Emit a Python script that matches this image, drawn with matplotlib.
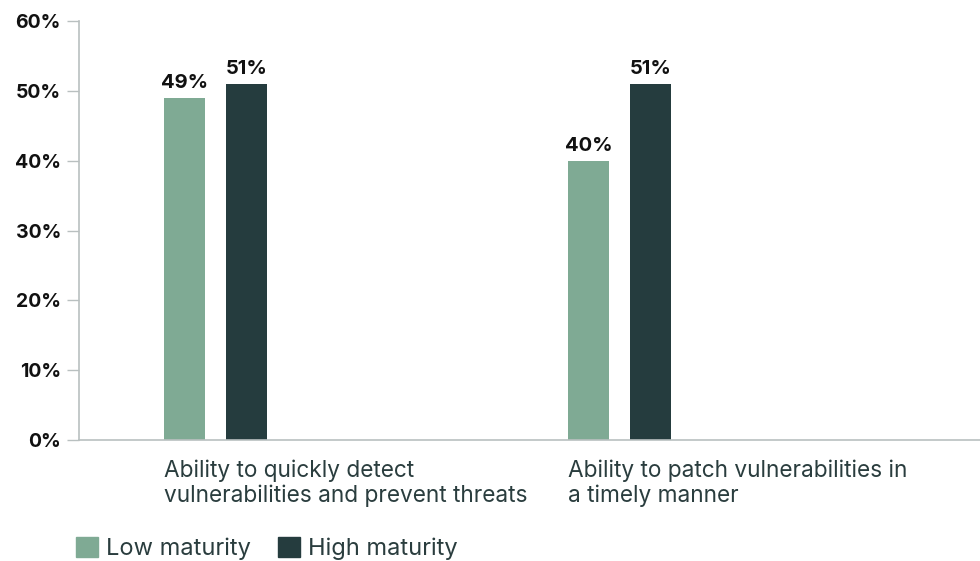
import matplotlib
matplotlib.use("Agg")
import matplotlib.pyplot as plt
import numpy as np
from matplotlib.patches import Patch

plt.rcParams['font.family'] = ['Inter', 'DejaVu Sans']

categories = ["Ability to quickly detect\nvulnerabilities and prevent threats",
              "Ability to patch vulnerabilities in\na timely manner"]
series_names = ["Low maturity", "High maturity"]
low_values = [49, 40]
high_values = [51, 51]
yticks = [0, 10, 20, 30, 40, 50, 60]

low_color = "#7faa94"
high_color = "#253c3e"
axis_color = "#b9c0c0"
text_color = "#2a3d3e"

fig = plt.figure(figsize=(9.8, 5.61), dpi=100)
ax = fig.add_axes([79 / 980, 1 - 440 / 561, 1 - 79 / 980, (440 - 21) / 561])

x = np.arange(len(categories))
w = 0.1015
gap = 0.1535
b1 = ax.bar(x, low_values, width=w, align='edge', color=low_color)
b2 = ax.bar(x + gap, high_values, width=w, align='edge', color=high_color)
for bars in (b1, b2):
    ax.bar_label(bars, labels=[f"{v}%" for v in bars.datavalues], padding=4,
                 fontsize=14.5, fontweight='bold', color='#111111')

ax.set_xlim(-0.21, 2.02)
ax.set_ylim(0, 60)
ax.set_yticks(yticks)
ax.set_yticklabels([f"{v}%" for v in yticks], fontsize=14, fontweight='bold', color='#111111')
ax.tick_params(axis='y', length=9, width=1, color=axis_color, pad=4)

ax.set_xticks(x)
ax.set_xticklabels(categories, fontsize=16.3, color=text_color, ha='left', linespacing=1.17)
ax.tick_params(axis='x', length=0, pad=14)

for side in ('top', 'right'):
    ax.spines[side].set_visible(False)
for side in ('left', 'bottom'):
    ax.spines[side].set_color(axis_color)
    ax.spines[side].set_linewidth(1.2)

# legend squares sit at the very bottom-left of the figure
handles = [Patch(color=low_color), Patch(color=high_color)]
fig.legend(handles, series_names, loc='lower left', bbox_to_anchor=(76 / 980, 1 / 561),
           ncol=2, frameon=False, fontsize=17, handlelength=0.93, handleheight=0.95,
           handletextpad=0.34, columnspacing=1.15, labelcolor=text_color,
           borderpad=0, borderaxespad=0)

fig.savefig("out.png", dpi=100)
